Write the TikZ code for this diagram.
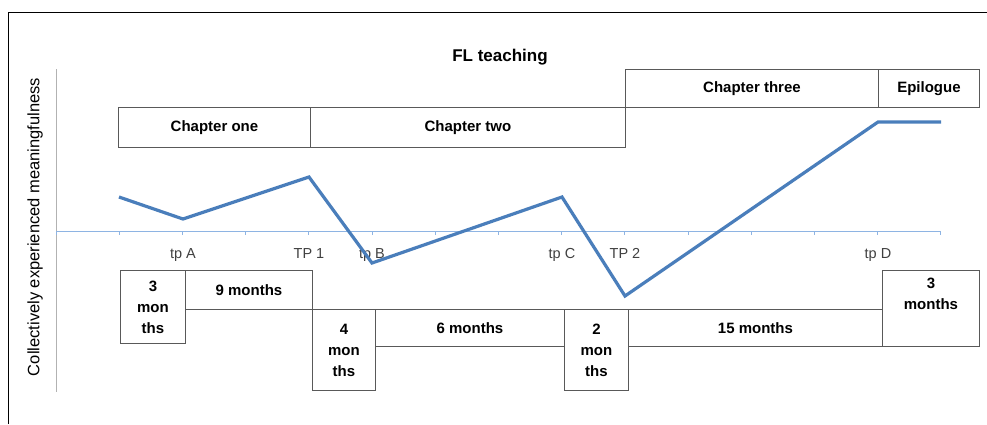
\documentclass[tikz,border=0pt]{standalone}
\usepackage{fontspec}
\setmainfont{Liberation Sans}
\usepackage{tikz}
\definecolor{curveblue}{HTML}{4A7EBB}
\definecolor{axisblue}{HTML}{8EB4E3}
\definecolor{boxgray}{HTML}{595959}

\tikzset{
  chapbox/.style={draw=boxgray, line width=0.9pt, anchor=north west, inner sep=0pt,
    font=\fontsize{15}{18}\selectfont\bfseries},
  mbox/.style={draw=boxgray, line width=0.9pt, anchor=north west, inner sep=0pt,
    align=center, font=\fontsize{15}{21}\selectfont\bfseries},
  tplabel/.style={anchor=base, text=black!75, font=\fontsize{14.5}{17}\selectfont},
}

\begin{document}
\begin{tikzpicture}[x=1pt,y=-1pt]
        \useasboundingbox (0,0) rectangle (987,424);
        \draw[line width=1pt] (8,424) -- (8,12) -- (987,12);
        \node[font=\fontsize{17}{20}\selectfont\bfseries] (title) at (500,57) {FL teaching};
        \node[rotate=90, font=\fontsize{16.5}{20}\selectfont] (ylab) at (35,227) {Collectively experienced meaningfulness};
        % axes
        \coordinate (ytop) at (56,69);
        \coordinate (ybot) at (56,392);
        \coordinate (xleft) at (56,231);
        \coordinate (xright) at (941,231);
        \draw[black!30, line width=1pt] (ytop) -- (ybot);
        \draw[axisblue, line width=1pt] (xleft) -- (xright);
        \foreach \i in {0,...,14}
            \draw[axisblue, line width=1pt] (56+63.2*\i,231) -- (56+63.2*\i,235);
        % turning points
        \node[tplabel] (tpA) at (183,258) {tp A};
        \node[tplabel] (TP1) at (309,258) {TP 1};
        \node[tplabel] (tpB) at (372,258) {tp B};
        \node[tplabel] (tpC) at (562,258) {tp C};
        \node[tplabel] (TP2) at (625,258) {TP 2};
        \node[tplabel] (tpD) at (878,258) {tp D};
        % meaningfulness curve
        \coordinate (p0) at (119,197);
        \coordinate (pA) at (183,219);
        \coordinate (p1) at (309,177);
        \coordinate (pB) at (372,263);
        \coordinate (pC) at (562,197);
        \coordinate (p2) at (625,296);
        \coordinate (pD) at (878,122);
        \coordinate (pE) at (941,122);
        \draw[curveblue, line width=3.2pt, line join=miter] (p0) -- (pA) -- (p1) -- (pB) -- (pC) -- (p2) -- (pD) -- (pE);
        % chapters
        \node[chapbox, minimum width=192, minimum height=40] (ch1) at (118,107) {Chapter one};
        \node[chapbox, minimum width=315, minimum height=40] (ch2) at (310,107) {Chapter two};
        \node[chapbox, minimum width=253, minimum height=38] (ch3) at (625,69) {Chapter three};
        \node[chapbox, minimum width=101, minimum height=38] (epi) at (878,69) {Epilogue};
        % durations
        \node[mbox, minimum width=65, minimum height=73] (m3a) at (120,270) {3\\mon\\ths};
        \node[mbox, minimum width=127, minimum height=39] (m9) at (185,270) {9 months};
        \node[mbox, minimum width=63, minimum height=81] (m4) at (312,309) {4\\mon\\ths};
        \node[mbox, minimum width=189, minimum height=37] (m6) at (375,309) {6 months};
        \node[mbox, minimum width=64, minimum height=81] (m2) at (564,309) {2\\mon\\ths};
        \node[mbox, minimum width=254, minimum height=37] (m15) at (628,309) {15 months};
        \node[mbox, minimum width=97, minimum height=76] (m3b) at (882,270) {};
        \node[mbox, draw=none, anchor=north] (m3btxt) at ([yshift=-8pt]m3b.north) {3\\months};
    \end{tikzpicture}
\end{document}
